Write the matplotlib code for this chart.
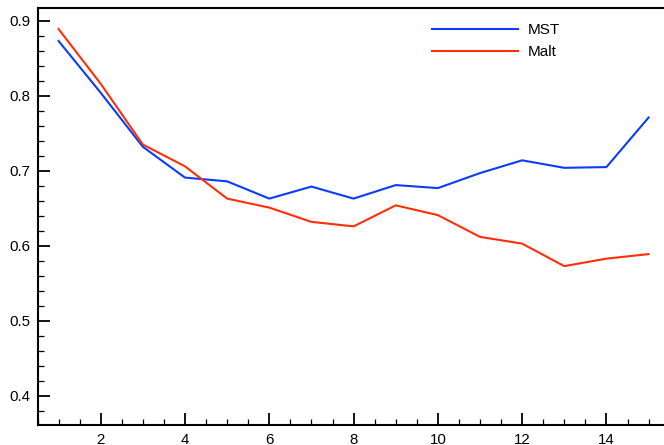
import matplotlib
matplotlib.use("Agg")
import matplotlib.pyplot as plt
from matplotlib.ticker import MultipleLocator

plt.rcParams['font.family'] = ['Liberation Sans', 'DejaVu Sans']

x = [1, 2, 3, 4, 5, 6, 7, 8, 9, 10, 11, 12, 13, 14, 15]
mst = [0.873, 0.804, 0.732, 0.691, 0.686, 0.663, 0.679, 0.663, 0.681,
       0.677, 0.697, 0.714, 0.704, 0.705, 0.771]
malt = [0.889, 0.816, 0.735, 0.706, 0.663, 0.651, 0.632, 0.626, 0.654,
        0.641, 0.612, 0.603, 0.573, 0.583, 0.589]

fig = plt.figure(figsize=(6.64, 4.45), dpi=100)
ax = fig.add_axes([0.0565, 0.045, 0.952, 0.937])

ax.plot(x, mst, color='#0a3cff', lw=1.5, label='MST')
ax.plot(x, malt, color='#ff2e0a', lw=1.5, label='Malt')

ax.set_xlim(0.5, 15.5)
ax.set_ylim(0.3613, 0.917)
ax.xaxis.set_major_locator(MultipleLocator(2))
ax.xaxis.set_minor_locator(MultipleLocator(0.5))
ax.yaxis.set_major_locator(MultipleLocator(0.1))
ax.yaxis.set_minor_locator(MultipleLocator(0.02))
ax.yaxis.set_major_formatter(plt.FuncFormatter(lambda v, p: f'{v:.1f}'))

ax.tick_params(which='major', direction='in', length=8.4, width=1.3,
               labelsize=10.8, pad=5)
ax.tick_params(which='minor', direction='in', length=4.3, width=0.9)
ax.tick_params(axis='x', which='major', pad=5.5)
for s in ax.spines.values():
    s.set_linewidth(1.5)

ax.legend(loc='upper left', bbox_to_anchor=(432 / 664, 1 - 23 / 445),
          bbox_transform=fig.transFigure, frameon=False, fontsize=11,
          handlelength=5.6, handletextpad=0.65, borderpad=0,
          borderaxespad=0, labelspacing=0.55)

fig.savefig('out.png', dpi=100)
